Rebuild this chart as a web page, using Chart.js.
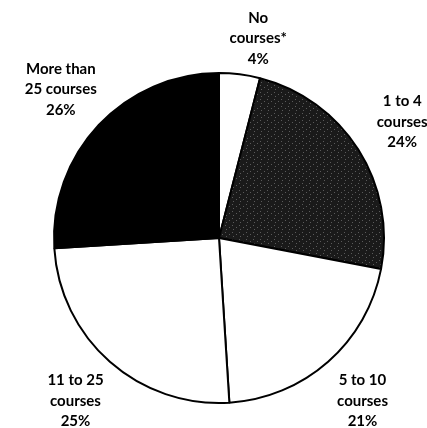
<!DOCTYPE html>
<html>
<head>
<meta charset="utf-8">
<script src="https://cdn.jsdelivr.net/npm/chart.js@4.4.0/dist/chart.umd.min.js"></script>
<style>
  html, body { margin: 0; padding: 0; background: #fff; }
  canvas { display: block; }
</style>
</head>
<body>
<canvas id="pie" width="427" height="428"></canvas>
<script>
let labels = [
  ["No", "courses*"],
  ["1 to 4", "courses"],
  ["5 to 10", "courses"],
  ["11 to 25", "courses"],
  ["More than", "25 courses"]
];
let percents = [4, 24, 21, 25, 26];

// dark speckled fill for the "1 to 4" slice
function stipple() {
  let c = document.createElement("canvas");
  c.width = 7;
  c.height = 7;
  let g = c.getContext("2d");
  g.fillStyle = "#1a1a1a";
  g.fillRect(0, 0, 7, 7);
  g.fillStyle = "#5a5a5a";
  g.fillRect(1, 1, 1, 1);
  g.fillRect(5, 3, 1, 1);
  g.fillRect(2, 5, 1, 1);
  return g.createPattern(c, "repeat");
}

let sliceLabels = {
  id: "sliceLabels",
  afterDraw(chart) {
    let ctx = chart.ctx;
    let arcs = chart.getDatasetMeta(0).data;
    ctx.save();
    ctx.fillStyle = "#000";
    ctx.font = "bold 15px Lato";
    ctx.textAlign = "center";
    ctx.textBaseline = "middle";
    for (let i = 0; i < arcs.length; i++) {
      let a = arcs[i];
      let mid = (a.startAngle + a.endAngle) / 2;
      let d = a.outerRadius + 52;
      let x = a.x + Math.cos(mid) * d;
      let y = a.y + Math.sin(mid) * d;
      let lines = labels[i].concat([percents[i] + "%"]);
      let lh = 20.5;
      let top = y - (lines.length - 1) * lh / 2;
      if (top < 18) {
        top = 18;
        x += 12;
      }
      for (let j = 0; j < lines.length; j++) {
        ctx.fillText(lines[j], x, top + j * lh);
      }
    }
    ctx.restore();
  }
};

new Chart(document.getElementById("pie"), {
  type: "pie",
  data: {
    labels: labels.map(l => l.join(" ")),
    datasets: [{
      data: percents,
      backgroundColor: ["#fff", stipple(), "#fff", "#fff", "#000"],
      borderColor: "#000",
      borderWidth: 2
    }]
  },
  options: {
    responsive: false,
    animation: false,
    layout: { padding: { left: 53, right: 42, top: 72, bottom: 24 } },
    plugins: {
      legend: { display: false },
      tooltip: { enabled: false }
    }
  },
  plugins: [sliceLabels]
});
</script>
</body>
</html>
